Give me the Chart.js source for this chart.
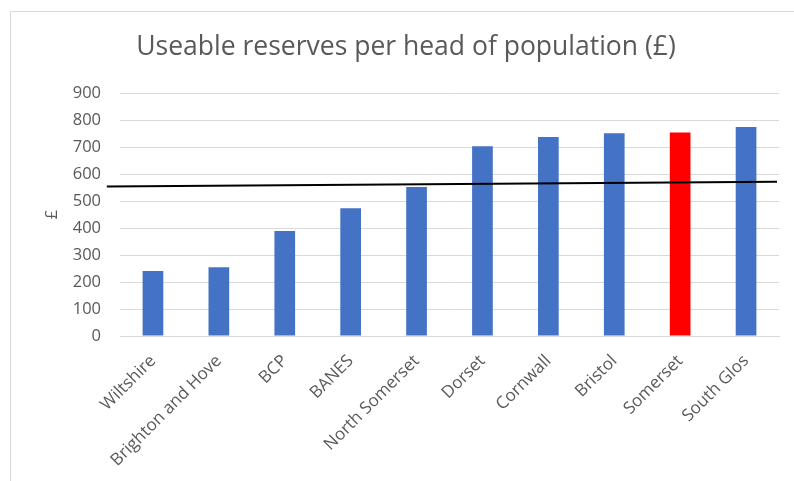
<!DOCTYPE html>
<html>
<head>
<meta charset="utf-8">
<script src="https://cdn.jsdelivr.net/npm/chart.js@4.4.0/dist/chart.umd.min.js"></script>
<style>
  html, body { margin: 0; padding: 0; background: #fff; overflow: hidden; }
  #frame {
    position: absolute; left: 10px; top: 11px;
    width: 900px; height: 600px;
    border: 1px solid #d9d9d9;
  }
  #reserves { position: absolute; left: 0; top: 0; }
</style>
</head>
<body>
<div id="frame"></div>
<canvas id="reserves" width="812" height="481"></canvas>
<script>
// useable reserves per head, £
const councils = ['Wiltshire', 'Brighton and Hove', 'BCP', 'BANES', 'North Somerset',
                  'Dorset', 'Cornwall', 'Bristol', 'Somerset', 'South Glos'];
const reserves = [241, 255, 389, 473, 552, 703, 737, 751, 754, 774];
const highlight = 'Somerset';

// hand-drawn average line: start and end (x in category index units)
const avgLineX = [-0.7, 9.47];
const avgLineY = [554, 571];

const yTicks = [0, 100, 200, 300, 400, 500, 600, 700, 800, 900];

const grey = '#595959';
const gridGrey = '#d9d9d9';

const ctx = document.getElementById('reserves').getContext('2d');
new Chart(ctx, {
    type: 'bar',
    data: {
        labels: councils,
        datasets: [
            {
                type: 'line',
                label: 'Average',
                data: avgLineX.map((x, i) => ({ x: x, y: avgLineY[i] })),
                xAxisID: 'xLine',
                borderColor: '#000',
                borderWidth: 2,
                pointRadius: 0,
                clip: false,
                order: 0
            },
            {
                label: 'Reserves per head',
                data: reserves,
                backgroundColor: councils.map(c => c === highlight ? '#FF0000' : '#4472C4'),
                barPercentage: 0.314,
                categoryPercentage: 1,
                grouped: false,
                order: 1
            }
        ]
    },
    options: {
        responsive: false,
        animation: false,
        layout: { padding: 0 },
        plugins: {
            legend: { display: false },
            tooltip: { enabled: false },
            title: {
                display: true,
                text: 'Useable reserves per head of population (£)',
                color: grey,
                font: { family: 'Open Sans', size: 26.5, weight: 'normal' },
                padding: { top: 31.5, bottom: 29.7 }
            }
        },
        scales: {
            x: {
                grid: { display: false, drawTicks: false },
                border: { color: gridGrey },
                ticks: {
                    color: grey,
                    font: { family: 'Open Sans', size: 17 },
                    minRotation: 45,
                    maxRotation: 45,
                    padding: 15,
                    autoSkip: false
                },
                afterFit: (scale) => { scale.height = 145; }
            },
            xLine: {
                type: 'linear',
                display: false,
                offset: false,
                min: -0.5,
                max: 9.5
            },
            y: {
                min: 0,
                max: 900,
                afterBuildTicks: (scale) => { scale.ticks = yTicks.map(v => ({ value: v })); },
                grid: { color: gridGrey, drawTicks: false },
                border: { display: false },
                ticks: {
                    color: grey,
                    font: { family: 'Open Sans', size: 16.5 },
                    padding: 19
                },
                title: {
                    display: true,
                    text: '£',
                    color: grey,
                    font: { family: 'Open Sans', size: 16.5 },
                    padding: { top: 42, bottom: 0 }
                },
                afterFit: (scale) => { scale.width = 120; }
            },
            // empty strip on the right so the plot stops short of the frame
            yRight: {
                position: 'right',
                grid: { display: false, drawTicks: false },
                border: { display: false },
                ticks: { display: false },
                afterFit: (scale) => { scale.width = 33; }
            }
        }
    }
});
</script>
</body>
</html>
